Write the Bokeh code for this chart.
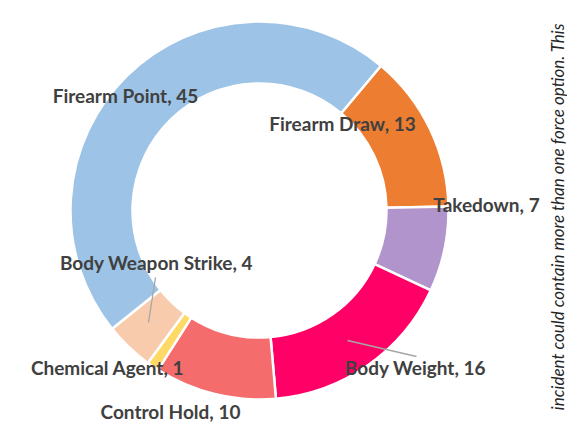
import math
from bokeh.plotting import figure
from bokeh.models import Range1d, ColumnDataSource
from bokeh.core.properties import value
from bokeh.embed import file_html
from bokeh.resources import INLINE

# ---- data ----
categories = ["Firearm Draw", "Takedown", "Body Weight", "Control Hold",
              "Chemical Agent", "Body Weapon Strike", "Firearm Point"]
counts = [13, 7, 16, 10, 1, 4, 45]
colors = ["#ED7D31", "#B294CC", "#FF0066", "#F46C6C", "#FFD966", "#F8CBAD", "#9DC3E6"]
side_note = "incident could contain more than one force option.  This"

# ---- layout (page pixel coordinates) ----
W, H = 567, 423
cx, cy = 259, 210
r_out, r_in = 189, 127
first_angle = 40.0  # degrees clockwise from 12 o'clock

label_pos = {
    "Firearm Point": (125, 95),
    "Firearm Draw": (342, 123),
    "Takedown": (486, 204),
    "Body Weight": (415, 367),
    "Body Weapon Strike": (156, 262),
    "Chemical Agent": (107, 367),
    "Control Hold": (170, 411),
}
leaders = {
    "Body Weapon Strike": ((155, 277), (148, 322)),
    "Body Weight": ((347, 340), (416, 356)),
}

def py(y):
    return H - y

p = figure(width=W, height=H, output_backend="svg", toolbar_location=None,
           x_range=Range1d(0, W), y_range=Range1d(0, H), min_border=0)
p.axis.visible = False
p.grid.visible = False
p.outline_line_color = None
p.background_fill_color = "white"

total = sum(counts)
starts, ends = [], []
acc = first_angle
for c in counts:
    a1 = acc
    a2 = acc + c / total * 360.0
    starts.append(math.radians(90 - a2))
    ends.append(math.radians(90 - a1))
    acc = a2

src = ColumnDataSource(dict(x=[cx] * len(counts), y=[py(cy)] * len(counts),
                            start=starts, end=ends, color=colors))
p.annular_wedge(x="x", y="y", inner_radius=r_in, outer_radius=r_out,
                start_angle="start", end_angle="end", direction="anticlock",
                fill_color="color", line_color="white", line_width=2.5, source=src)

for name, ((x0, y0), (x1, y1)) in leaders.items():
    p.line([x0, x1], [py(y0), py(y1)], line_color="#A6A6A6", line_width=1.3)

lx = [label_pos[c][0] for c in categories]
ly = [py(label_pos[c][1]) for c in categories]
txt = [f"{c}, {v}" for c, v in zip(categories, counts)]
p.text(x=lx, y=ly, text=txt, text_align="center", text_baseline="middle",
       text_font=value("Lato"), text_font_style="bold", text_font_size="19px",
       text_color="#404040")

p.text(x=[557], y=[py(214)], text=[side_note], angle=math.pi / 2,
       text_align="center", text_baseline="middle",
       text_font=value("Lato"), text_font_style="italic", text_font_size="17px",
       text_color="#262626")

open("out.html", "w").write(file_html(p, INLINE))
